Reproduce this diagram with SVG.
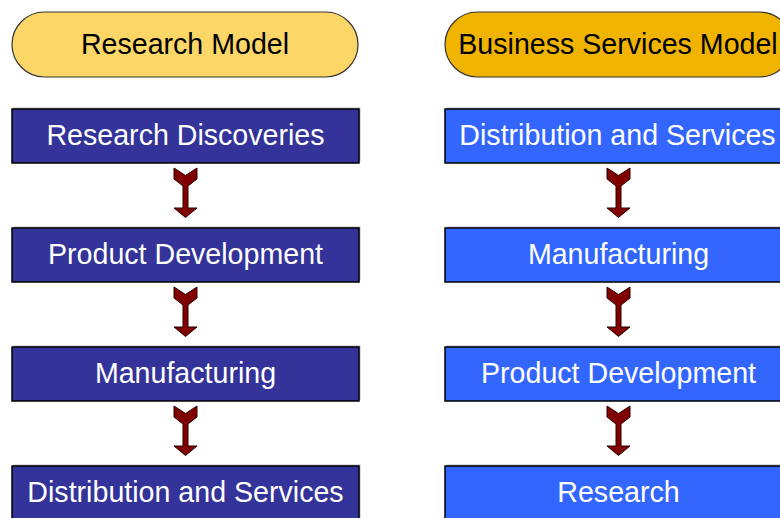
<svg xmlns="http://www.w3.org/2000/svg" width="780" height="518" viewBox="0 0 780 518">
  <defs>
    <style>
      .pill { stroke: #333333; stroke-width: 1.2; }
      .pill-a { fill: #FCD767; }
      .pill-b { fill: #F0B400; }
      .title { font-family: "Liberation Sans", Arial, sans-serif; font-size: 28.6px; fill: #000000; text-anchor: middle; }
      .shadow { fill: #B8B8B8; }
      .box { stroke: #000000; stroke-width: 1.5; }
      .box-a { fill: #333399; }
      .box-b { fill: #3366FF; }
      .label { font-family: "Liberation Sans", Arial, sans-serif; font-size: 28.6px; fill: #FFFFFF; text-anchor: middle; }
      .arrow { fill: #800000; stroke: #2a0000; stroke-width: 1; stroke-linejoin: miter; }
    </style>
    <!-- fletched down-arrow, centred on x=0, top at y=0 -->
    <path id="down-arrow" d="M-11.5,0 L0,7.5 L11.5,0 L11.5,11 L2.5,18 L2.5,40 L11.5,40 L0,49.5 L-11.5,40 L-2.5,40 L-2.5,18 L-11.5,11 Z"/>
  </defs>

  <rect width="780" height="518" fill="#FFFFFF"/>

  <!-- Left column: research model -->
  <g id="research-model">
    <rect class="pill pill-a" x="12" y="12" width="346" height="65" rx="32.5" ry="32.5"/>
    <text class="title" x="185" y="54">Research Model</text>
  </g>
  <g id="research-discoveries">
    <rect class="shadow" x="13.5" y="107.5" width="347" height="54"/>
    <rect class="box box-a" x="12" y="109" width="347" height="54"/>
    <text class="label" x="185.5" y="145">Research Discoveries</text>
  </g>
  <g id="left-product-development">
    <rect class="shadow" x="13.5" y="226.5" width="347" height="54"/>
    <rect class="box box-a" x="12" y="228" width="347" height="54"/>
    <text class="label" x="185.5" y="264">Product Development</text>
  </g>
  <g id="left-manufacturing">
    <rect class="shadow" x="13.5" y="345.5" width="347" height="54"/>
    <rect class="box box-a" x="12" y="347" width="347" height="54"/>
    <text class="label" x="185.5" y="383">Manufacturing</text>
  </g>
  <g id="left-distribution">
    <rect class="shadow" x="13.5" y="464.5" width="347" height="60"/>
    <rect class="box box-a" x="12" y="466" width="347" height="60"/>
    <text class="label" x="185.5" y="502">Distribution and Services</text>
  </g>

  <!-- Right column: business services model -->
  <g id="business-services-model">
    <rect class="pill pill-b" x="445" y="12" width="347" height="65" rx="32.5" ry="32.5"/>
    <text class="title" x="618" y="54">Business Services Model</text>
  </g>
  <g id="right-distribution">
    <rect class="shadow" x="446.5" y="107.5" width="347" height="54"/>
    <rect class="box box-b" x="445" y="109" width="347" height="54"/>
    <text class="label" x="617.5" y="145">Distribution and Services</text>
  </g>
  <g id="right-manufacturing">
    <rect class="shadow" x="446.5" y="226.5" width="347" height="54"/>
    <rect class="box box-b" x="445" y="228" width="347" height="54"/>
    <text class="label" x="618.5" y="264">Manufacturing</text>
  </g>
  <g id="right-product-development">
    <rect class="shadow" x="446.5" y="345.5" width="347" height="54"/>
    <rect class="box box-b" x="445" y="347" width="347" height="54"/>
    <text class="label" x="618.5" y="383">Product Development</text>
  </g>
  <g id="research">
    <rect class="shadow" x="446.5" y="464.5" width="347" height="60"/>
    <rect class="box box-b" x="445" y="466" width="347" height="60"/>
    <text class="label" x="618.5" y="502">Research</text>
  </g>

  <!-- Connectors -->
  <g id="connectors" class="arrow">
    <use href="#down-arrow" x="185.5" y="168"/>
    <use href="#down-arrow" x="185.5" y="287"/>
    <use href="#down-arrow" x="185.5" y="406"/>
    <use href="#down-arrow" x="618.5" y="168"/>
    <use href="#down-arrow" x="618.5" y="287"/>
    <use href="#down-arrow" x="618.5" y="406"/>
  </g>
</svg>
